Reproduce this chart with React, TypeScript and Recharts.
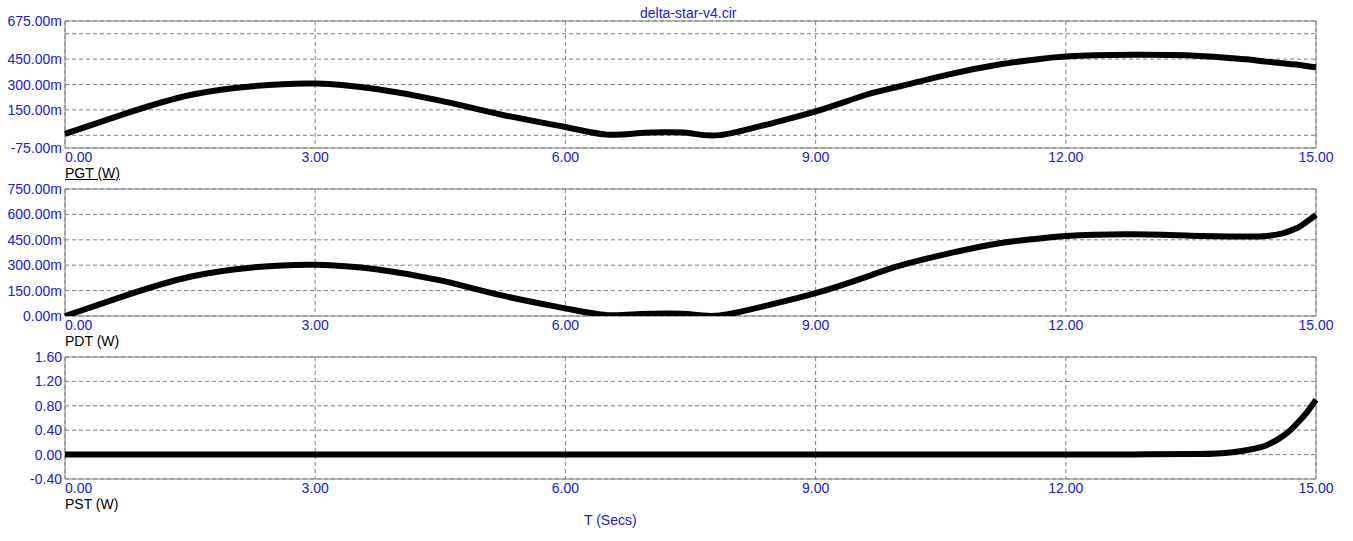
import React from 'react';
import { LineChart, Line, XAxis, YAxis, CartesianGrid, ReferenceArea } from 'recharts';

// time samples (s) and the three traces (W)
const T = [0, 0.75, 1.5, 2.25, 3.0, 3.75, 4.5, 5.25, 6.0, 6.5, 6.9, 7.25, 7.5, 7.85, 8.4, 9.0, 9.6, 10.0, 10.6, 11.2, 11.6, 12.0, 12.8, 13.6, 14.0, 14.2, 14.4, 14.6, 14.7, 14.8, 14.9, 15.0];
const PGT = [0.008, 0.132, 0.238, 0.29, 0.306, 0.272, 0.205, 0.12, 0.049, 0.004, 0.014, 0.018, 0.012, 0.001, 0.062, 0.141, 0.238, 0.288, 0.36, 0.418, 0.445, 0.465, 0.475, 0.469, 0.455, 0.447, 0.435, 0.425, 0.42, 0.415, 0.408, 0.402];
const PDT = [0, 0.125, 0.232, 0.287, 0.303, 0.275, 0.21, 0.12, 0.045, 0.005, 0.012, 0.015, 0.01, 0.003, 0.06, 0.135, 0.23, 0.296, 0.37, 0.43, 0.453, 0.473, 0.483, 0.473, 0.47, 0.469, 0.472, 0.488, 0.505, 0.527, 0.56, 0.597];
const PST = [0, 0, 0, 0, 0, 0, 0, 0, 0, 0, 0, 0, 0, 0, 0, 0, 0, 0, 0, 0, 0, 0, 0.003, 0.01, 0.04, 0.08, 0.15, 0.3, 0.41, 0.55, 0.71, 0.9];

const X_TICKS = [0, 3, 6, 9, 12, 15];
const PGT_TICKS = [-0.075, 0, 0.15, 0.3, 0.45, 0.6, 0.675];
const PGT_HIDDEN = [0, 0.6];
const PDT_TICKS = [0, 0.15, 0.3, 0.45, 0.6, 0.75];
const PST_TICKS = [-0.4, 0, 0.4, 0.8, 1.2, 1.6];

const data = T.map((t, i) => ({ t, pgt: PGT[i], pdt: PDT[i], pst: PST[i] }));

const FONT = '"Liberation Sans", Arial, sans-serif';
const BLUE = '#2020c8';

const milli = (v: number) => `${(v * 1000).toFixed(2)}m`;
const plain = (v: number) => v.toFixed(2);

const XTick = (props: any) => {
  const { x, y, payload } = props;
  return (
    <text x={x} y={y} dy={14} textAnchor={payload.value === 0 ? 'start' : 'middle'} fill={BLUE} fontSize={14} fontFamily={FONT}>
      {payload.value.toFixed(2)}
    </text>
  );
};

function Panel({ top, marginTop, height, dataKey, domain, ticks, format, curve, hidden = [] }: any) {
  const YTick = (props: any) => {
    const { x, y, payload } = props;
    if (hidden.includes(payload.value)) return null;
    return (
      <text x={x} y={y} dy={5} textAnchor="end" fill={BLUE} fontSize={14} fontFamily={FONT}>
        {format(payload.value)}
      </text>
    );
  };
  return (
    <div style={{ position: 'absolute', left: 0, top }}>
      <LineChart width={1353} height={height} data={data} margin={{ top: marginTop, right: 37, bottom: 0, left: 0 }}>
        <CartesianGrid stroke="#808080" strokeDasharray="4 3" />
        <XAxis dataKey="t" type="number" domain={[0, 15]} ticks={X_TICKS} interval={0} axisLine={false} tickLine={false} tickSize={0} tickMargin={0} height={20} tick={<XTick />} />
        <YAxis type="number" domain={domain} ticks={ticks} interval={0} width={65} axisLine={false} tickLine={false} tickSize={0} tickMargin={3} tick={YTick} allowDataOverflow />
        <ReferenceArea x1={0} x2={15} y1={domain[0]} y2={domain[1]} fill="none" stroke="#808080" strokeWidth={1} fillOpacity={0} />
        <Line dataKey={dataKey} type={curve} stroke="#000" strokeWidth={6} dot={false} isAnimationActive={false} />
      </LineChart>
    </div>
  );
}

const labelStyle: React.CSSProperties = { position: 'absolute', fontFamily: FONT, fontSize: 14, lineHeight: '16px', whiteSpace: 'nowrap' };

export default function App() {
  return (
    <div style={{ position: 'absolute', left: 0, top: 0, width: 1353, height: 541, background: '#fff', overflow: 'hidden' }}>
      <div style={{ ...labelStyle, left: 640, top: 5, color: BLUE }}>delta-star-v4.cir</div>
      <Panel top={0} marginTop={21} height={168} dataKey="pgt" curve="natural" domain={[-0.075, 0.675]} ticks={PGT_TICKS} hidden={PGT_HIDDEN} format={milli} />
      <Panel top={180} marginTop={9} height={156} dataKey="pdt" curve="natural" domain={[0, 0.75]} ticks={PDT_TICKS} format={milli} />
      <Panel top={348} marginTop={9} height={151} dataKey="pst" curve="monotone" domain={[-0.4, 1.6]} ticks={PST_TICKS} format={plain} />
      <div style={{ ...labelStyle, left: 65, top: 165, color: '#000', textDecoration: 'underline' }}>PGT (W)</div>
      <div style={{ ...labelStyle, left: 65, top: 333, color: '#000' }}>PDT (W)</div>
      <div style={{ ...labelStyle, left: 65, top: 496, color: '#000' }}>PST (W)</div>
      <div style={{ ...labelStyle, left: 584, top: 512, color: BLUE }}>T (Secs)</div>
    </div>
  );
}
